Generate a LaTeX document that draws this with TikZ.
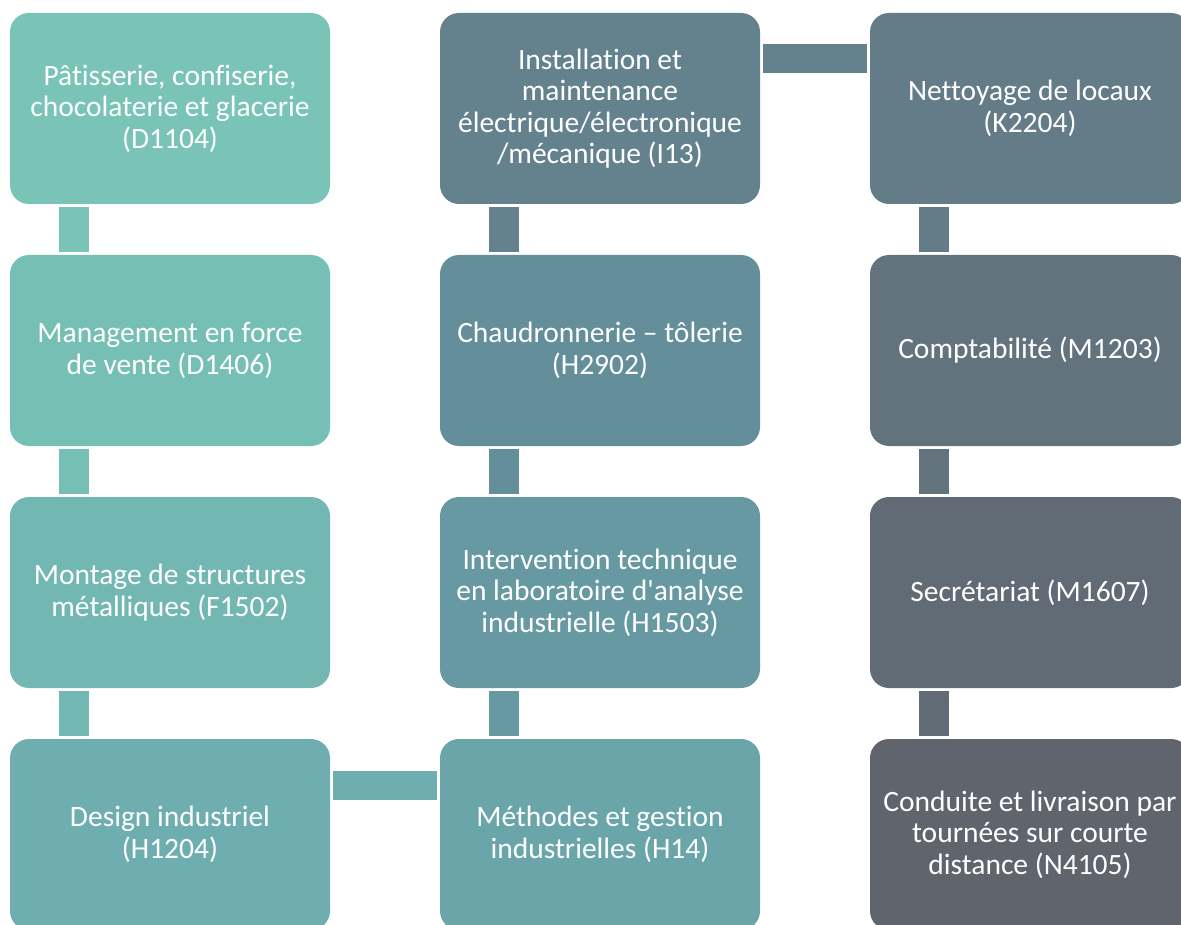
\documentclass[tikz,border=0pt]{standalone}
\usepackage{fontspec}
\setmainfont[Ligatures={NoCommon}]{Carlito}
\definecolor{cA}{HTML}{79C4B7}
\definecolor{cB}{HTML}{75BFB4}
\definecolor{cC}{HTML}{72B7B2}
\definecolor{cD}{HTML}{6FAEB0}
\definecolor{cE}{HTML}{6AA5AA}
\definecolor{cF}{HTML}{6799A2}
\definecolor{cG}{HTML}{648E99}
\definecolor{cH}{HTML}{63828E}
\definecolor{cI}{HTML}{637C88}
\definecolor{cJ}{HTML}{62737E}
\definecolor{cK}{HTML}{616B76}
\definecolor{cL}{HTML}{5F646D}
\tikzset{
  jobbox/.style={rectangle, rounded corners=19pt, minimum width=320pt, minimum height=191pt,
    inner sep=0pt, text=white, align=center,
    font=\fontsize{29.5pt}{31.5pt}\selectfont},
}
\begin{document}
\begin{tikzpicture}[x=1pt,y=-1pt]
\useasboundingbox (0,0) rectangle (1181,925);
\fill[white] (0,0) rectangle (1181,925);
% column 1
\node[jobbox, fill=cA] (a1) at (170,108.5) {Pâtisserie, confiserie,\\chocolaterie et glacerie\\(D1104)};
\node[jobbox, fill=cB] (a2) at (170,350.5) {Management en force\\de vente (D1406)};
\node[jobbox, fill=cC] (a3) at (170,592.5) {Montage de structures\\métalliques (F1502)};
\node[jobbox, fill=cD] (a4) at (170,834.5) {Design industriel\\(H1204)};
% column 2
\node[jobbox, fill=cH] (b1) at (600,108.5) {Installation et\\maintenance\\électrique/électronique\\/mécanique (I13)};
\node[jobbox, fill=cG] (b2) at (600,350.5) {Chaudronnerie – tôlerie\\(H2902)};
\node[jobbox, fill=cF] (b3) at (600,592.5) {Intervention technique\\en laboratoire d\textquotesingle analyse\\industrielle (H1503)};
\node[jobbox, fill=cE] (b4) at (600,834.5) {Méthodes et gestion\\industrielles (H14)};
% column 3
\node[jobbox, fill=cI] (c1) at (1030,108.5) {Nettoyage de locaux\\(K2204)};
\node[jobbox, fill=cJ] (c2) at (1030,350.5) {Comptabilité (M1203)};
\node[jobbox, fill=cK] (c3) at (1030,592.5) {Secrétariat (M1607)};
\node[jobbox, fill=cL] (c4) at (1030,834.5) {Conduite et livraison par\\tournées sur courte\\distance (N4105)};
% vertical connectors
\fill[cA] ([xshift=49pt,yshift=-3pt]a1.south west) rectangle ([xshift=79pt,yshift=3pt]a2.north west);
\fill[cB] ([xshift=49pt,yshift=-3pt]a2.south west) rectangle ([xshift=79pt,yshift=3pt]a3.north west);
\fill[cC] ([xshift=49pt,yshift=-3pt]a3.south west) rectangle ([xshift=79pt,yshift=3pt]a4.north west);
\fill[cF] ([xshift=49pt,yshift=-3pt]b3.south west) rectangle ([xshift=79pt,yshift=3pt]b4.north west);
\fill[cG] ([xshift=49pt,yshift=-3pt]b2.south west) rectangle ([xshift=79pt,yshift=3pt]b3.north west);
\fill[cH] ([xshift=49pt,yshift=-3pt]b1.south west) rectangle ([xshift=79pt,yshift=3pt]b2.north west);
\fill[cI] ([xshift=49pt,yshift=-3pt]c1.south west) rectangle ([xshift=79pt,yshift=3pt]c2.north west);
\fill[cJ] ([xshift=49pt,yshift=-3pt]c2.south west) rectangle ([xshift=79pt,yshift=3pt]c3.north west);
\fill[cK] ([xshift=49pt,yshift=-3pt]c3.south west) rectangle ([xshift=79pt,yshift=3pt]c4.north west);
% horizontal connectors
\fill[cD] ([xshift=3pt,yshift=-32pt]a4.north east) rectangle ([xshift=-3pt,yshift=-61pt]b4.north west);
\fill[cH] ([xshift=3pt,yshift=-31pt]b1.north east) rectangle ([xshift=-3pt,yshift=-60pt]c1.north west);
\end{tikzpicture}
\end{document}
